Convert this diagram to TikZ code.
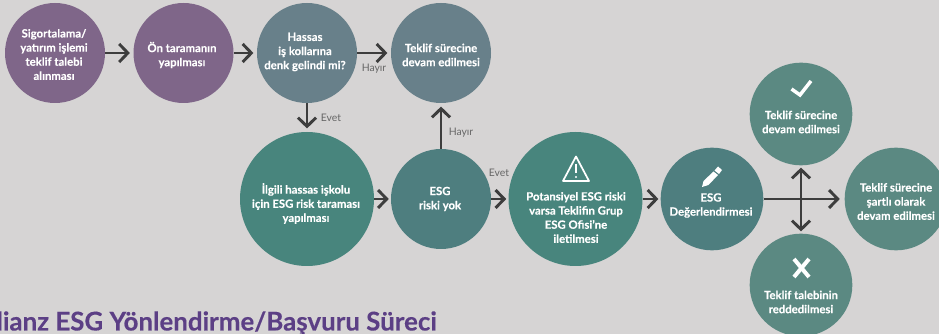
\documentclass[tikz,border=0pt]{standalone}
\usepackage{fontspec}
\setmainfont[BoldFeatures={FakeBold=0.25}]{Lato}
\usetikzlibrary{arrows.meta}
\definecolor{bgc}{HTML}{D6D4D4}
\definecolor{purp}{HTML}{7F6689}
\definecolor{slate}{HTML}{68808A}
\definecolor{teala}{HTML}{48857D}
\definecolor{tealb}{HTML}{4E7E7F}
\definecolor{tealc}{HTML}{5B8982}
\definecolor{arr}{HTML}{3D3D3D}
\definecolor{lab}{HTML}{666666}
\definecolor{ttl}{HTML}{5C3F85}
\tikzset{
  x=0.75pt,y=-0.75pt,
  circ/.style={circle,draw=none,inner sep=0pt,minimum size=#1},
  big/.style={circ=100.5pt},
  mid/.style={circ=75pt},
  mide/.style={circ=77pt},
  txt/.style={text=white,align=center,inner sep=0pt,font=\fontsize{8.5pt}{10.6pt}\selectfont\bfseries},
  lbl/.style={text=lab,inner sep=0pt,font=\fontsize{7.8pt}{9pt}\selectfont},
  conn/.style={draw=arr,line width=2.2pt,-{Straight Barb[length=6.5pt,width=13.5pt,line width=2.2pt]}},
  dbl/.style={draw=arr,line width=2.2pt,{Straight Barb[length=6.5pt,width=13.5pt,line width=2.2pt]}-{Straight Barb[length=6.5pt,width=13.5pt,line width=2.2pt]}},
  icon/.style={draw=white,line cap=round,line join=round},
}
\begin{document}
\begin{tikzpicture}
\useasboundingbox (0,0) rectangle (939,334);
\clip (0,0) rectangle (939,334);
\fill[bgc] (0,0) rectangle (939,334);
% circles
\node[mid,fill=purp] (a) at (55,53) {};
\node[mid,fill=purp] (b) at (183.5,53) {};
\node[mid,fill=slate] (c) at (307,53) {};
\node[mid,fill=slate] (d) at (441,53) {};
\node[big,fill=teala] (e) at (307,199) {};
\node[mid,fill=tealb] (f) at (441,199) {};
\node[big,fill=teala] (g) at (575.5,199) {};
\node[mide,fill=tealb] (h) at (712,199) {};
\node[mide,fill=tealc] (i) at (801,114) {};
\node[mide,fill=tealc] (j) at (896,199) {};
\node[mide,fill=tealc] (k) at (801,285) {};
% texts
\node[txt] (ta) at (54,54.5) {Sigortalama/\\yatırım işlemi\\teklif talebi\\alınması};
\node[txt] (tb) at (182,55) {Ön taramanın\\yapılması};
\node[txt] (tc) at (305,52) {Hassas\\iş kollarına\\denk gelindi mi?};
\node[txt] (td) at (441,55) {Teklif sürecine\\devam edilmesi};
\node[txt] (te) at (306,203.5) {İlgili hassas işkolu\\için ESG risk taraması\\yapılması};
\node[txt] (tf) at (440,199) {ESG\\riski yok};
\node[txt] (tg) at (576,217.5) {Potansiyel ESG riski\\varsa Teklifin Grup\\ESG Ofisi’ne\\iletilmesi};
\node[txt] (th) at (711,205.5) {ESG\\Değerlendirmesi};
\node[txt] (ti) at (801,122) {Teklif sürecine\\devam edilmesi};
\node[txt] (tj) at (896,201.5) {Teklif sürecine\\şartlı olarak\\devam edilmesi};
\node[txt] (tk) at (801,302) {Teklif talebinin\\reddedilmesi};
% connectors
\draw[conn,shorten >=2.5pt] (a) -- (b);
\draw[conn,shorten >=2.5pt] (b) -- (c);
\draw[conn,shorten >=2.5pt] (c) -- (d);
\draw[conn,shorten >=2.5pt] (c) -- (e);
\draw[conn,shorten >=1.5pt] (e) -- (f);
\draw[conn,shorten >=1.5pt] (f) -- (g);
\draw[conn,shorten >=1.5pt] (g) -- (h);
\draw[conn,shorten >=2.5pt] (f) -- (d);
\draw[conn,shorten >=3.5pt] (h) -- (j);
\draw[dbl,shorten >=1.5pt,shorten <=1.5pt] (i) -- (k);
% labels
\node[lbl] (l1) at (374,69) {Hayır};
\node[lbl] (l2) at (331,118) {Evet};
\node[lbl] (l3) at (461,133) {Hayır};
\node[lbl] (l4) at (499,173) {Evet};
% icons
\draw[icon,line width=2.6pt,line cap=butt,line join=miter] (791.5,89) -- (800,95) -- (811,81);
\draw[icon,line width=3pt,line cap=butt] (794,259) -- (809,277) (809,259) -- (794,277);
\draw[icon,line width=1.3pt] (576,156.5) -- (563,181) -- (589,181) -- cycle;
\draw[icon,line width=1.5pt,line cap=butt] (576,164) -- (576,173.5);
\fill[white] (576,177) circle (1.1);
\fill[white] (718,166.5) -- (722,170) -- (719,174) -- (714.5,170.5) -- cycle;
\fill[white] (713.5,171.5) -- (718,175) -- (708.5,185) -- (702,187) -- (703.5,181) -- cycle;
% title
\node[anchor=base east,inner sep=0pt,text=ttl,font=\fontsize{19.4pt}{20pt}\selectfont\bfseries] (title) at (437,330.5) {Allianz ESG Yönlendirme/Başvuru Süreci};
\end{tikzpicture}
\end{document}
